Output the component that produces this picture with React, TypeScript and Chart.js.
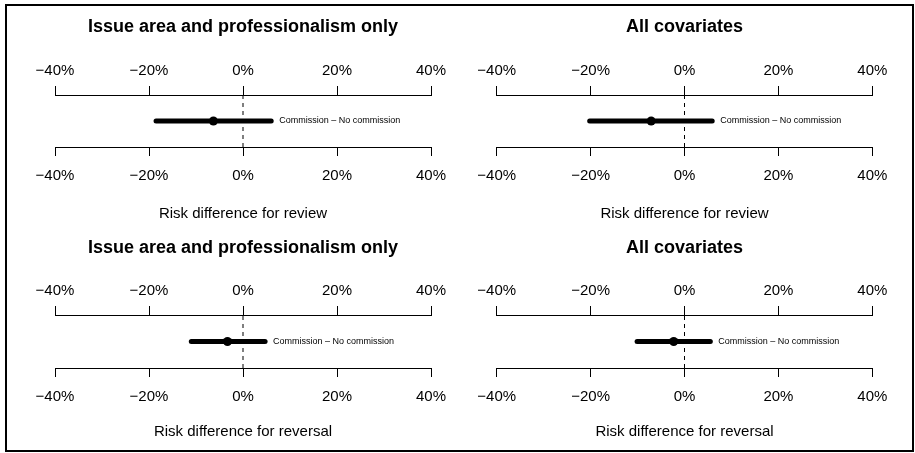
import React, { useEffect, useRef } from "react";
import { Chart, registerables } from "chart.js";

Chart.register(...registerables);

const panelTitles = [
  "Issue area and professionalism only",
  "All covariates",
  "Issue area and professionalism only",
  "All covariates",
];
const axisLabels = [
  "Risk difference for review",
  "Risk difference for review",
  "Risk difference for reversal",
  "Risk difference for reversal",
];
const contrastLabel = "Commission \u2013 No commission";
const tickValues = [-40, -20, 0, 20, 40];
const pointEstimates = [-6.3, -7.1, -3.3, -2.3];
const lowerBounds = [-18.5, -20.2, -11.0, -10.1];
const upperBounds = [6.0, 5.9, 4.7, 5.5];

const W = 915;
const H = 453;
const FONT = "'Liberation Sans', Arial, Helvetica, sans-serif";

const panelLayouts = [
  { left: 55, right: 431, top: 0, axisTop: 95, axisBottom: 147, labelY: 214 },
  { left: 496.7, right: 872.3, top: 0, axisTop: 95, axisBottom: 147, labelY: 214 },
  { left: 55, right: 431, top: 221, axisTop: 315, axisBottom: 368, labelY: 432 },
  { left: 496.7, right: 872.3, top: 221, axisTop: 315, axisBottom: 368, labelY: 432 },
];

const fmtTick = (v: number) => (v < 0 ? "\u2212" + Math.abs(v) + "%" : v + "%");

const contrastLabelPlugin = {
  id: "contrastLabel",
  afterDatasetsDraw(chart: any) {
    const i = chart.options.plugins.contrastLabel.index;
    const xs = chart.scales.x;
    const ys = chart.scales.y;
    const ctx = chart.ctx;
    ctx.save();
    ctx.font = "9px " + FONT;
    ctx.fillStyle = "#000";
    ctx.textAlign = "left";
    ctx.textBaseline = "middle";
    ctx.fillText(contrastLabel, xs.getPixelForValue(upperBounds[i]) + 8, ys.getPixelForValue(1));
    ctx.restore();
  },
};

function Panel({ index }: { index: number }) {
  const ref = useRef<HTMLCanvasElement>(null);
  useEffect(() => {
    const L = panelLayouts[index];
    const titleFont = 18;
    const titleLH = titleFont * 1.2;
    const titleCenter = L.top + 27;
    const titlePadTop = titleCenter - L.top - titleLH / 2;
    const topAxisH = L.axisTop - L.top - titlePadTop - titleLH;
    const labelLH = 15 * 1.2;
    const bottomAxisH = L.labelY - L.axisBottom + labelLH / 2;
    const padBottom = H - L.axisBottom - bottomAxisH;

    const tickCfg = {
      color: "#000",
      font: { family: FONT, size: 15 },
      maxRotation: 0,
      autoSkip: false,
      callback: (v: any) => fmtTick(Number(v)),
    };
    const gridCfg = {
      display: true,
      drawOnChartArea: false,
      drawTicks: true,
      tickLength: 9,
      color: "#000",
      lineWidth: 1,
    };

    const chart = new Chart(ref.current as HTMLCanvasElement, {
      type: "line",
      data: {
        datasets: [
          {
            label: "zero",
            data: [
              { x: 0, y: 0 },
              { x: 0, y: 2 },
            ],
            borderColor: "#000",
            borderWidth: 1,
            borderDash: [4, 4],
            pointRadius: 0,
          },
          {
            label: "interval",
            data: [
              { x: lowerBounds[index], y: 1 },
              { x: upperBounds[index], y: 1 },
            ],
            borderColor: "#000",
            borderWidth: 5,
            borderCapStyle: "round",
            pointRadius: 0,
          },
          {
            label: "estimate",
            data: [{ x: pointEstimates[index], y: 1 }],
            borderColor: "#000",
            backgroundColor: "#000",
            showLine: false,
            pointRadius: 4.5,
            pointBorderWidth: 0,
          },
        ],
      },
      options: {
        responsive: false,
        animation: false,
        parsing: false as any,
        events: [],
        layout: {
          padding: { left: L.left, right: W - L.right, top: L.top, bottom: padBottom },
        },
        plugins: {
          legend: { display: false },
          tooltip: { enabled: false },
          title: {
            display: true,
            text: panelTitles[index],
            color: "#000",
            font: { family: FONT, size: titleFont, weight: "bold", lineHeight: 1.2 },
            padding: { top: titlePadTop, bottom: 0 },
          },
          contrastLabel: { index },
        } as any,
        scales: {
          x: {
            type: "linear",
            position: "top",
            min: -40,
            max: 40,
            afterBuildTicks: (s: any) => {
              s.ticks = tickValues.map((v) => ({ value: v }));
            },
            afterFit: (s: any) => {
              s.height = topAxisH;
            },
            ticks: { ...tickCfg, padding: 6.5 },
            grid: gridCfg,
            border: { display: true, color: "#000", width: 1 },
          },
          x2: {
            type: "linear",
            position: "bottom",
            min: -40,
            max: 40,
            afterBuildTicks: (s: any) => {
              s.ticks = tickValues.map((v) => ({ value: v }));
            },
            afterFit: (s: any) => {
              s.height = bottomAxisH;
            },
            ticks: { ...tickCfg, padding: 10.8 },
            grid: gridCfg,
            border: { display: true, color: "#000", width: 1 },
            title: {
              display: true,
              text: axisLabels[index],
              color: "#000",
              font: { family: FONT, size: 15, lineHeight: 1.2 },
              padding: { top: 0, bottom: 0 },
            },
          },
          y: {
            type: "linear",
            display: false,
            min: 0,
            max: 2,
          },
        },
      } as any,
      plugins: [contrastLabelPlugin],
    });
    return () => chart.destroy();
  }, [index]);
  return (
    <canvas
      ref={ref}
      width={W}
      height={H}
      style={{ position: "absolute", left: 0, top: 0, width: W, height: H }}
    />
  );
}

export default function App() {
  return (
    <div style={{ position: "absolute", left: 0, top: 0, width: W, height: H, background: "#fff" }}>
      <div
        style={{
          position: "absolute",
          left: 5,
          top: 4,
          width: 909,
          height: 448,
          border: "2px solid #000",
          boxSizing: "border-box",
        }}
      />
      {[0, 1, 2, 3].map((i) => (
        <Panel key={i} index={i} />
      ))}
    </div>
  );
}
